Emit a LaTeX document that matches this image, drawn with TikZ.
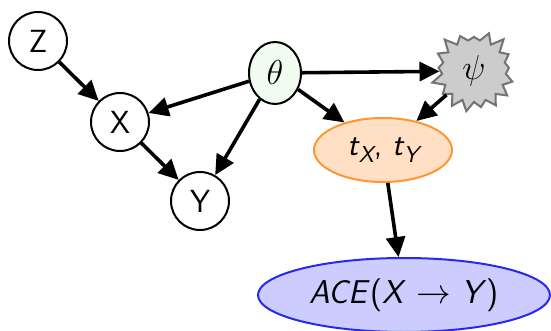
\documentclass[tikz,border=0pt]{standalone}
\usetikzlibrary{shapes.geometric,shapes.symbols,arrows.meta}
\begin{document}
\begin{tikzpicture}[x=0.5pt,y=-0.5pt,
  every node/.style={font=\fontsize{16}{18}\selectfont\sffamily},
  var/.style={circle,draw,line width=1pt,minimum size=29pt,inner sep=0pt},
  edge/.style={line width=1.8pt,-{Triangle[length=10pt,width=9.5pt]}}]
\useasboundingbox (0,0) rectangle (551,331);
\definecolor{thetafill}{RGB}{240,252,240}
\definecolor{tfill}{RGB}{255,224,196}
\definecolor{tdraw}{RGB}{255,150,50}
\definecolor{acefill}{RGB}{204,204,255}
\definecolor{acedraw}{RGB}{40,40,240}
\node[var] (Z) at (38,41) {Z};
\node[var] (X) at (120,122) {X};
\node[var] (Y) at (200,201) {Y};
\node[ellipse,draw,line width=1pt,fill=thetafill,minimum width=26pt,minimum height=31pt,inner sep=0pt,font=\fontsize{17}{19}\selectfont] (th) at (275,73) {$\theta$};
\node[starburst,starburst points=17,starburst point height=6pt,random starburst=23,draw=black!55,line width=1pt,fill=black!20,minimum width=44pt,minimum height=43pt,inner sep=0pt,font=\fontsize{17}{19}\selectfont] (psi) at (474,71) {$\psi$};
\node[ellipse,draw=tdraw,line width=1pt,fill=tfill,minimum width=69pt,minimum height=32pt,inner sep=0pt,font=\fontsize{16}{18}\selectfont\sffamily] (t) at (383,150) {\itshape t\kern0.3pt\raisebox{-0.22em}{\fontsize{11.5}{12}\selectfont X}\upshape, \itshape t\kern0.3pt\raisebox{-0.22em}{\fontsize{11.5}{12}\selectfont Y}};
\node[ellipse,draw=acedraw,line width=1pt,fill=acefill,minimum width=146pt,minimum height=37pt,inner sep=0pt,font=\fontsize{16.5}{18}\selectfont\sffamily] (ace) at (404,295) {\itshape ACE\/\upshape(\itshape X\/ \upshape$\rightarrow$ \itshape Y\/\upshape)};
\draw[edge] (Z) -- (X);
\draw[edge] (th) -- (X);
\draw[edge] (th) -- (Y);
\draw[edge] (X) -- (Y);
\draw[edge] (th) -- (psi);
\draw[edge] (th) -- (t);
\draw[edge] (psi) -- (t);
\draw[edge] (t) -- (ace);
\end{tikzpicture}
\end{document}
